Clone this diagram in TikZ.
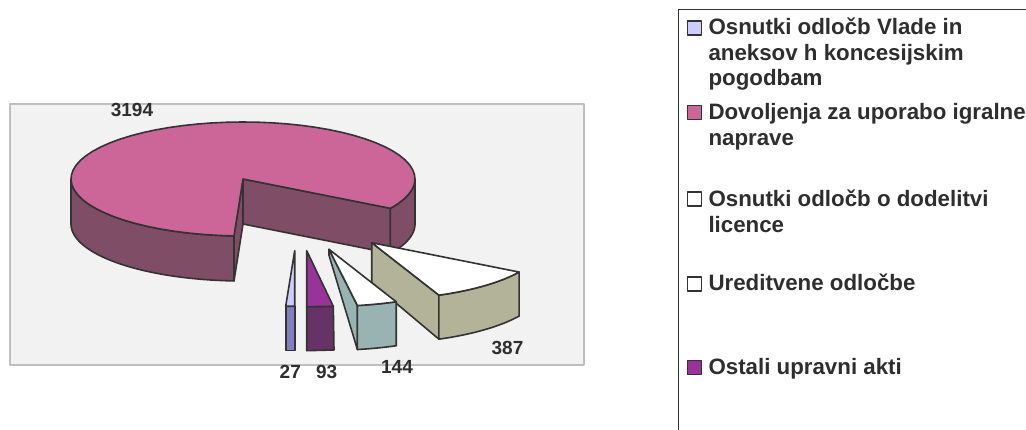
\documentclass[tikz,border=0pt]{standalone}
\usepackage{fontspec}
\setmainfont{Liberation Sans}
\definecolor{pinktop}{HTML}{CC6699}
\definecolor{pinkside}{HTML}{804D66}
\definecolor{olive}{HTML}{B3B399}
\definecolor{tealside}{HTML}{99B3B3}
\definecolor{purpletop}{HTML}{993399}
\definecolor{purplefront}{HTML}{663366}
\definecolor{lavtop}{HTML}{CCCCFF}
\definecolor{lavfront}{HTML}{8080C0}
\definecolor{edge}{HTML}{333333}
\definecolor{chartbg}{HTML}{F2F2F2}
\definecolor{boxgray}{HTML}{BFBFBF}
\definecolor{txt}{HTML}{2E2E2E}
% outer side face of a (translated) pie slice: #1 a1, #2 a2, #3 dx, #4 dy, #5 depth, #6 fill
\newcommand\mySide[6]{%
  \filldraw[pieline, fill=#6] plot[domain=#1:#2,samples=60] ({243+172*cos(\x)+#3},{179+57*sin(\x)+#4})
    -- plot[domain=#2:#1,samples=60] ({243+172*cos(\x)+#3},{179+57*sin(\x)+#4+#5}) -- cycle;}
% top face: #1 a1, #2 a2, #3 dx, #4 dy, #5 fill
\newcommand\myTop[5]{%
  \filldraw[pieline, fill=#5] ({243+#3},{179+#4}) -- plot[domain=#1:#2,samples=60] ({243+172*cos(\x)+#3},{179+57*sin(\x)+#4}) -- cycle;}
% cut face at angle #1: #2 dx, #3 dy, #4 depth at rim, #5 depth at apex, #6 fill
\newcommand\myCut[6]{%
  \filldraw[pieline, fill=#6] ({243+#2},{179+#3}) -- ({243+172*cos(#1)+#2},{179+57*sin(#1)+#3})
    -- ({243+172*cos(#1)+#2},{179+57*sin(#1)+#3+#4}) -- ({243+#2},{179+#3+#5}) -- cycle;}
\begin{document}
\begin{tikzpicture}[x=1pt,y=-1pt,line join=round,
  pieline/.style={draw=edge,line width=1.6pt},
  lab/.style={font=\fontsize{19}{22}\selectfont\bfseries,text=txt,inner sep=0pt},
  legtxt/.style={font=\fontsize{22.3}{25.5}\selectfont\bfseries,text=txt,inner sep=0pt,align=left,anchor=base west},
  legsq/.style={draw=edge,line width=1.4pt,minimum size=14pt,inner sep=0pt}]
\useasboundingbox (0,0) rectangle (1026,430);
\clip (0,0) rectangle (1026,430);

% chart area
\filldraw[fill=chartbg,draw=boxgray,line width=2pt] (9.5,104.3) rectangle (584,365);

% big slice 3194
\myCut{31}{0}{0}{45}{45}{pinkside}
\myCut{93}{0}{0}{45}{45}{pinkside}
\mySide{93}{180}{0}{0}{45}{pinkside}
\mySide{0}{31}{0}{0}{45}{pinkside}
\myTop{31}{-267}{0}{0}{pinktop}

% slice 387
\myCut{67}{128.7}{63.7}{44}{40}{olive}
\mySide{31}{67}{128.7}{63.7}{44}{olive}
\myTop{31}{67}{128.7}{63.7}{white}

% slice 144
\myCut{80.5}{86}{70.3}{44}{6}{tealside}
\mySide{67}{80.5}{86}{70.3}{44}{tealside}
\myTop{67}{80.5}{86}{70.3}{white}

% slice 93
\filldraw[pieline,fill=purplefront] (306.7,306.7) -- (333.3,306.3) -- (334,350) -- (306.7,350.7) -- cycle;
\filldraw[pieline,fill=purpletop] (306.7,250.7) -- (306.7,306.7) -- (333.3,306.3) -- cycle;

% slice 27
\filldraw[pieline,fill=lavfront] (285.7,306.3) -- (294.7,306.3) -- (294.7,350.7) -- (285.7,350.7) -- cycle;
\filldraw[pieline,fill=lavtop] (294.7,250.7) -- (285.7,306.3) -- (294.7,306.3) -- cycle;

% data labels
\node[lab] (l3194) at (132,110) {3194};
\node[lab] (l387) at (507.5,348.3) {387};
\node[lab] (l144) at (397,367.3) {144};
\node[lab] (l93) at (326.7,371.7) {93};
\node[lab] (l27) at (290.3,371.7) {27};

% legend frame
\draw[draw=edge,line width=1.5pt] (678.3,440) -- (678.3,9.3) -- (1040,9.3);

% legend entries (anchor = baseline of the last line)
\node[legsq,fill=lavtop] (sq1) at (694.2,27.9) {};
\node[legtxt] (t1) at (708.3,86) {Osnutki odločb Vlade in\\aneksov h koncesijskim\\pogodbam};
\node[legsq,fill=pinktop] (sq2) at (694.2,112.5) {};
\node[legtxt] (t2) at (708.3,145.5) {Dovoljenja za uporabo igralne\\naprave};
\node[legsq,fill=white] (sq3) at (694.2,199.2) {};
\node[legtxt] (t3) at (708.3,232.2) {Osnutki odločb o dodelitvi\\licence};
\node[legsq,fill=white] (sq4) at (694.2,283.9) {};
\node[legtxt] (t4) at (708.3,291) {Ureditvene odločbe};
\node[legsq,fill=purpletop] (sq5) at (694.2,367.5) {};
\node[legtxt] (t5) at (708.3,375) {Ostali upravni akti};
\end{tikzpicture}
\end{document}
